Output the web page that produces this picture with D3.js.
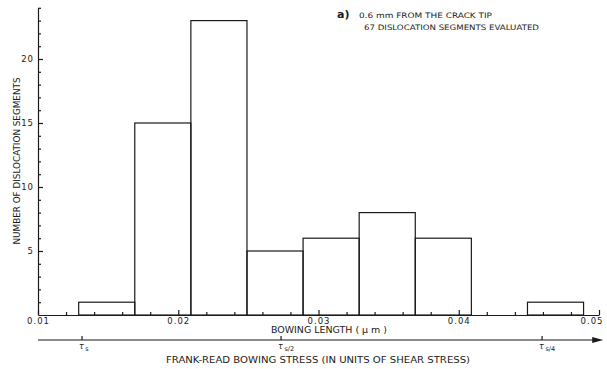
<!DOCTYPE html>
<html>
<head>
<meta charset="utf-8">
<script src="https://cdn.jsdelivr.net/npm/d3@7"></script>
<style>
  html, body { margin: 0; padding: 0; background: #fff; }
  svg { display: block; }
  text { font-family: "DejaVu Sans", sans-serif; fill: #1a1a1a; }
</style>
</head>
<body>
<svg id="chart" width="607" height="369"></svg>
<script>
// ---- data ----
const binStarts = [0.0129, 0.0169, 0.0209, 0.0249, 0.0289, 0.0329, 0.0369, 0.0409, 0.0449];
const counts    = [1, 15, 23, 5, 6, 8, 6, 0, 1];
const binWidth  = 0.004;
const xTickValues = [0.01, 0.02, 0.03, 0.04, 0.05];
const xTickLabels = ["0.01", "0.02", "0.03", "0.04", "0.05"];
const yTickValues = [5, 10, 15, 20];
const stressPositions = [0.01314, 0.02733, 0.04594];
const stressSubscripts = ["s", "s/2", "s/4"];

const ink = "#1a1a1a";
const svg = d3.select("#chart");

const x = d3.scaleLinear().domain([0.01, 0.05]).range([38, 599]);
const y = d3.scaleLinear().domain([0, 24]).range([315, 7.8]);

// bars
svg.append("g").selectAll("rect")
  .data(binStarts.map((s, i) => ({ s, c: counts[i] })).filter(d => d.c > 0))
  .join("rect")
  .attr("x", d => x(d.s))
  .attr("y", d => y(d.c))
  .attr("width", d => x(d.s + binWidth) - x(d.s))
  .attr("height", d => y(0) - y(d.c))
  .attr("fill", "none")
  .attr("stroke", ink)
  .attr("stroke-width", 1.2);

// x axis (ticks pointing up)
const xAxis = svg.append("g").attr("transform", `translate(0,${y(0)})`)
  .call(d3.axisBottom(x).tickValues(xTickValues)
    .tickFormat((d, i) => xTickLabels[i])
    .tickSizeInner(-5).tickSizeOuter(0).tickPadding(3));
const xMinor = d3.range(0.01, 0.0501, 0.002).filter(v => !xTickValues.some(t => Math.abs(t - v) < 1e-6));
svg.append("g").attr("transform", `translate(0,${y(0)})`)
  .call(d3.axisBottom(x).tickValues(xMinor).tickFormat("").tickSizeInner(-3).tickSizeOuter(0))
  .select(".domain").remove();

// y axis (ticks pointing right)
const yAxis = svg.append("g").attr("transform", `translate(${x(0.01)},0)`)
  .call(d3.axisLeft(y).tickValues(yTickValues).tickFormat(d3.format("d"))
    .tickSizeInner(-5).tickSizeOuter(0).tickPadding(4));
const yMinor = d3.range(1, 25, 1).filter(v => !yTickValues.includes(v));
svg.append("g").attr("transform", `translate(${x(0.01)},0)`)
  .call(d3.axisLeft(y).tickValues(yMinor).tickFormat("").tickSizeInner(-3).tickSizeOuter(0))
  .select(".domain").remove();

svg.selectAll(".domain, .tick line").attr("stroke", ink).attr("stroke-width", 1.2);
svg.selectAll(".tick text")
  .attr("fill", ink)
  .style("font-size", "8.5px")
  .style("letter-spacing", "1px")
  .style("font-family", "DejaVu Sans, sans-serif");
// keep the last x label inside the picture, as in the reference
xAxis.selectAll(".tick text").filter(d => d === 0.05)
  .attr("text-anchor", "end").attr("x", 4);

// axis titles
svg.append("text")
  .attr("x", 329).attr("y", 333)
  .attr("text-anchor", "middle")
  .attr("textLength", 116).attr("lengthAdjust", "spacingAndGlyphs")
  .style("font-size", "8.5px")
  .text("BOWING LENGTH ( μ m )");

svg.append("text")
  .attr("transform", "translate(19.5,161) rotate(-90)")
  .attr("text-anchor", "middle")
  .attr("textLength", 167).attr("lengthAdjust", "spacingAndGlyphs")
  .style("font-size", "8px")
  .text("NUMBER OF DISLOCATION SEGMENTS");

// second (stress) axis with arrow
const sy = 340;
svg.append("line")
  .attr("x1", x(0.01)).attr("x2", x(0.0499))
  .attr("y1", sy).attr("y2", sy)
  .attr("stroke", ink).attr("stroke-width", 1.2);
const tip = x(0.0503);
svg.append("path")
  .attr("d", `M${tip},${sy} L${tip - 11},${sy - 3} L${tip - 11},${sy + 3} Z`)
  .attr("fill", ink);

const sTicks = svg.append("g").selectAll("g")
  .data(stressPositions.map((p, i) => ({ p, s: stressSubscripts[i] })))
  .join("g")
  .attr("transform", d => `translate(${x(d.p)},${sy})`);
sTicks.append("line")
  .attr("y1", -4).attr("y2", 0)
  .attr("stroke", ink).attr("stroke-width", 1.2);
const sLab = sTicks.append("text")
  .attr("x", -3).attr("y", 9)
  .style("font-size", "8px");
sLab.append("tspan").style("font-style", "italic").text("τ");
sLab.append("tspan").attr("dx", 1.5).attr("dy", 2).style("font-size", "6.5px").text(d => d.s);

svg.append("text")
  .attr("x", 318).attr("y", 363)
  .attr("text-anchor", "middle")
  .attr("textLength", 304).attr("lengthAdjust", "spacingAndGlyphs")
  .style("font-size", "9px")
  .text("FRANK-READ BOWING STRESS (IN UNITS OF SHEAR STRESS)");

// annotation
svg.append("text")
  .attr("x", 337).attr("y", 18)
  .style("font-size", "11px").style("font-weight", "bold")
  .text("a)");
svg.append("text")
  .attr("x", 359).attr("y", 17.5)
  .attr("textLength", 133).attr("lengthAdjust", "spacingAndGlyphs")
  .style("font-size", "7.5px")
  .text("0.6 mm FROM THE CRACK TIP");
svg.append("text")
  .attr("x", 364).attr("y", 29.5)
  .attr("textLength", 175).attr("lengthAdjust", "spacingAndGlyphs")
  .style("font-size", "7.5px")
  .text("67 DISLOCATION SEGMENTS EVALUATED");
</script>
</body>
</html>
